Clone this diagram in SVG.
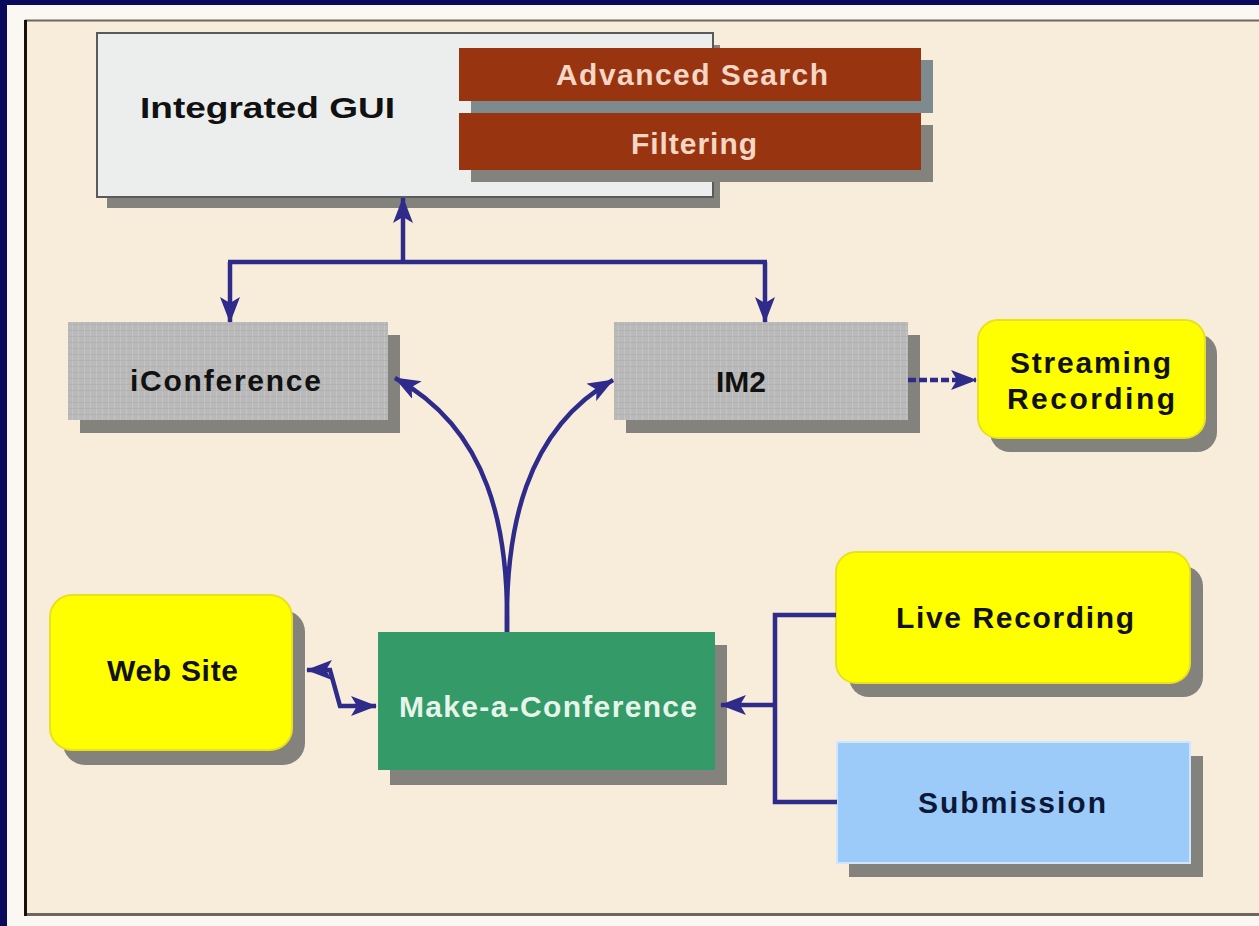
<svg xmlns="http://www.w3.org/2000/svg" width="1259" height="926" viewBox="0 0 1259 926">
<style>
  .lbl { font-family: "Liberation Sans", Arial, sans-serif; font-weight: bold; font-size: 30px; text-anchor: start; }
  .dark { fill: #111111; }
  .peach { fill: #f6d6c4; }
  .white { fill: #e6f4ea; }
  .navy { fill: #0c1838; }
  .shadow { fill: #84827c; }
  .conn { fill: none; stroke: #2e2b8a; stroke-width: 4.5; }
</style>
<defs>
  <marker id="ah" viewBox="0 0 26 20" refX="25" refY="10" markerWidth="26" markerHeight="20" markerUnits="userSpaceOnUse" orient="auto-start-reverse">
    <path d="M0,0 L26,10 L0,20 L6,10 z" fill="#2e2b8a"/>
  </marker>
  <pattern id="grid" width="6" height="6" patternUnits="userSpaceOnUse">
    <rect width="6" height="6" fill="#b9b9b9"/>
    <rect x="0" y="0" width="1" height="6" fill="#c4c4c4"/>
    <rect x="0" y="0" width="6" height="1" fill="#b2b2b2"/>
  </pattern>
</defs>

<!-- frame -->
<rect x="0" y="0" width="1259" height="926" fill="#fbf8f3"/>
<rect x="0" y="0" width="1259" height="5" fill="#0a0a5c"/>
<rect x="0" y="0" width="7" height="926" fill="#0a0a5c"/>
<rect x="25" y="20" width="1234" height="895" fill="#f8eddb"/>
<line x1="25" y1="20.5" x2="1259" y2="20.5" stroke="#6e665c" stroke-width="2"/>
<line x1="25" y1="914.5" x2="1259" y2="914.5" stroke="#6e665c" stroke-width="3"/>
<line x1="25.5" y1="20" x2="25.5" y2="916" stroke="#1a0f08" stroke-width="3"/>

<!-- Integrated GUI -->
<g id="integrated-gui">
  <rect class="shadow" x="107" y="45" width="613" height="163"/>
  <rect x="97" y="33" width="616" height="164" fill="#eceeee" stroke="#5a5a5a" stroke-width="2"/>
  <text class="lbl dark" x="140" y="118" font-size="38" font-weight="normal" textLength="255" lengthAdjust="spacingAndGlyphs">Integrated GUI</text>
</g>

<g id="advanced-search">
  <rect x="471" y="60" width="462" height="53" fill="#7d8a8e"/>
  <rect x="459" y="48" width="462" height="53" fill="#983510"/>
  <text class="lbl peach" x="556" y="85" textLength="272">Advanced Search</text>
</g>

<g id="filtering">
  <rect class="shadow" x="471" y="125" width="462" height="57"/>
  <rect x="459" y="113" width="462" height="57" fill="#983510"/>
  <text class="lbl peach" x="631" y="154" textLength="126">Filtering</text>
</g>

<g id="iconference">
  <rect class="shadow" x="80" y="335" width="320" height="98"/>
  <rect x="68" y="322" width="320" height="98" fill="url(#grid)"/>
  <text class="lbl dark" x="130" y="391" textLength="191">iConference</text>
</g>

<g id="im2">
  <rect class="shadow" x="626" y="335" width="294" height="98"/>
  <rect x="614" y="322" width="294" height="98" fill="url(#grid)"/>
  <text class="lbl dark" x="716" y="392">IM2</text>
</g>

<g id="streaming-recording">
  <rect class="shadow" x="990" y="334" width="227" height="118" rx="20"/>
  <rect x="978" y="320" width="227" height="118" rx="20" fill="#ffff00" stroke="#e8e020" stroke-width="2"/>
  <text class="lbl dark" x="1010" y="373" textLength="161">Streaming</text>
  <text class="lbl dark" x="1007" y="409" textLength="168">Recording</text>
</g>

<g id="web-site">
  <rect class="shadow" x="63" y="610" width="242" height="155" rx="22"/>
  <rect x="50" y="595" width="242" height="155" rx="22" fill="#ffff00" stroke="#e8e020" stroke-width="2"/>
  <text class="lbl dark" x="107" y="681" textLength="131">Web Site</text>
</g>

<g id="make-a-conference">
  <rect class="shadow" x="390" y="645" width="337" height="140"/>
  <rect x="378" y="632" width="337" height="138" fill="#339a68"/>
  <text class="lbl white" x="399" y="717" textLength="298">Make-a-Conference</text>
</g>

<g id="live-recording">
  <rect class="shadow" x="849" y="566" width="354" height="131" rx="20"/>
  <rect x="836" y="552" width="354" height="131" rx="20" fill="#ffff00" stroke="#e8e020" stroke-width="2"/>
  <text class="lbl dark" x="896" y="628" textLength="238">Live Recording</text>
</g>

<g id="submission">
  <rect class="shadow" x="849" y="756" width="354" height="121"/>
  <rect x="837" y="742" width="353" height="121" fill="#9ccbfa" stroke="#cfe6ff" stroke-width="2"/>
  <text class="lbl navy" x="918" y="813" textLength="188">Submission</text>
</g>

<g id="connectors">
  <line class="conn" x1="403" y1="262" x2="403" y2="198" marker-end="url(#ah)"/>
  <line class="conn" x1="228" y1="262" x2="767" y2="262"/>
  <line class="conn" x1="230" y1="262" x2="230" y2="322" marker-end="url(#ah)"/>
  <line class="conn" x1="765" y1="262" x2="765" y2="322" marker-end="url(#ah)"/>
  <path class="conn" d="M507,632 C509,530 490,430 395,378" marker-end="url(#ah)"/>
  <path class="conn" d="M507,632 C505,530 525,430 613,380" marker-end="url(#ah)"/>
  <line class="conn" x1="908" y1="380" x2="976" y2="380" stroke-dasharray="8 3" marker-end="url(#ah)"/>
  <path class="conn" d="M307,670 L330,670 L340,706 L376,706" marker-start="url(#ah)" marker-end="url(#ah)"/>
  <path class="conn" d="M836,615 H775 V802 H837"/>
  <line class="conn" x1="775" y1="705" x2="721" y2="705" marker-end="url(#ah)"/>
</g>
</svg>
